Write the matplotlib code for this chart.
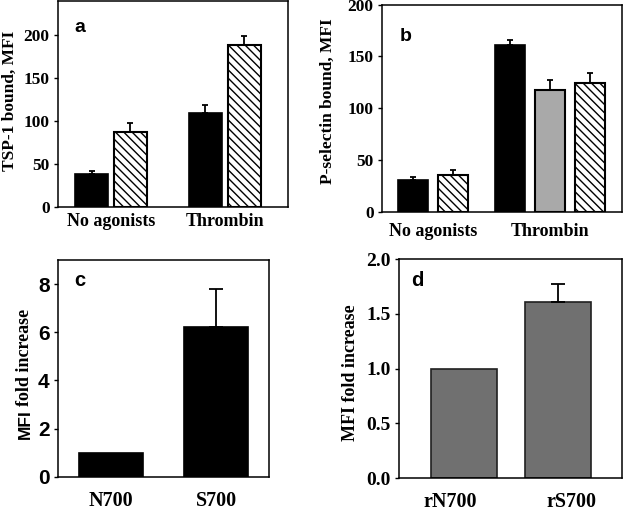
import matplotlib
matplotlib.use('Agg')
import numpy as np
import matplotlib.pyplot as plt

SERIF = 'Liberation Serif'
SANS = 'Liberation Sans'

# ---- data ----
# panel a: TSP-1 bound (MFI)
groups_ab = ['No agonists', 'Thrombin']
tsp_solid = [38, 110]
tsp_solid_err = [4, 9]
tsp_hatch = [88, 189]
tsp_hatch_err = [10, 10]

# panel b: P-selectin bound (MFI)
psel_na = [31, 36]            # black, hatched
psel_na_err = [3, 4]
psel_thr = [161, 118, 124]    # black, gray, hatched
psel_thr_err = [5, 9, 10]

# panel c: MFI fold increase
cats_c = ['N700', 'S700']
fold_c = [1.0, 6.2]
fold_c_err = [0, 1.6]

# panel d: MFI fold increase
cats_d = ['rN700', 'rS700']
fold_d = [1.0, 1.61]
fold_d_err = [0, 0.16]

HATCH = '\\\\\\\\'
plt.rcParams['hatch.linewidth'] = 1.0

fig = plt.figure(figsize=(6.25, 5.12), dpi=100)


def style_axes(ax, tickfont, ticksize):
    for s in ax.spines.values():
        s.set_linewidth(1.1)
    ax.tick_params(axis='y', direction='out', length=3, width=1, pad=3)
    ax.tick_params(axis='x', length=0)
    for lab in ax.get_yticklabels():
        lab.set_fontfamily(tickfont)
        lab.set_fontweight('bold')
        lab.set_fontsize(ticksize)


def up_err(ax, x, y, e, cap):
    ax.errorbar(x, y, yerr=[np.zeros(len(e)), e], fmt='none', ecolor='black',
                elinewidth=1.3, capsize=cap, capthick=1.3)


# ---- panel a ----
ax = fig.add_axes([0.0928, 0.5957, 0.368, 0.402])
x = np.arange(len(groups_ab))
w = 0.29
off = 0.171
ax.bar(x - off, tsp_solid, w, color='black', edgecolor='black', linewidth=1.2)
ax.bar(x + off, tsp_hatch, w, color='white', edgecolor='black', linewidth=1.5, hatch=HATCH)
up_err(ax, x - off, tsp_solid, tsp_solid_err, 2.5)
up_err(ax, x + off, tsp_hatch, tsp_hatch_err, 2.5)
ax.set_xlim(-0.465, 1.553)
ax.set_ylim(0, 240)
ax.set_yticks([0, 50, 100, 150, 200])
ax.set_xticks(x)
ax.set_xticklabels(groups_ab, fontfamily=SERIF, fontweight='bold', fontsize=13)
ax.tick_params(axis='x', pad=4)
style_axes(ax, SERIF, 12.5)
ax.set_ylabel('TSP-1 bound, MFI', fontfamily=SERIF, fontweight='bold', fontsize=12.5)
ax.yaxis.set_label_coords(-0.175, 0.515)
ax.text(0.096, 0.874, 'a', transform=ax.transAxes, fontfamily=SANS, fontweight='bold',
        fontsize=14, ha='center', va='center')

# ---- panel b ----
ax = fig.add_axes([0.611, 0.586, 0.384, 0.405])
w = 0.256
sp = 0.342
xna = np.array([-sp / 2, sp / 2])
xth = 1 + np.array([-sp, 0, sp])
ax.bar(xna[0], psel_na[0], w, color='black', edgecolor='black', linewidth=1.2)
ax.bar(xna[1], psel_na[1], w, color='white', edgecolor='black', linewidth=1.5, hatch=HATCH)
ax.bar(xth[0], psel_thr[0], w, color='black', edgecolor='black', linewidth=1.2)
ax.bar(xth[1], psel_thr[1], w, color='#a9a9a9', edgecolor='black', linewidth=1.5)
ax.bar(xth[2], psel_thr[2], w, color='white', edgecolor='black', linewidth=1.5, hatch=HATCH)
up_err(ax, xna, psel_na, psel_na_err, 2.5)
up_err(ax, xth, psel_thr, psel_thr_err, 2.5)
ax.set_xlim(-0.436, 1.615)
ax.set_ylim(0, 200)
ax.set_yticks([0, 50, 100, 150, 200])
ax.set_xticks([0, 1])
ax.set_xticklabels(groups_ab, fontfamily=SERIF, fontweight='bold', fontsize=13)
ax.tick_params(axis='x', pad=8)
style_axes(ax, SERIF, 12.5)
ax.set_ylabel('P-selectin bound, MFI', fontfamily=SERIF, fontweight='bold', fontsize=12.5)
ax.yaxis.set_label_coords(-0.19, 0.535)
ax.text(0.1, 0.847, 'b', transform=ax.transAxes, fontfamily=SANS, fontweight='bold',
        fontsize=14, ha='center', va='center')

# ---- panel c ----
ax = fig.add_axes([0.0928, 0.0684, 0.3376, 0.424])
x = np.arange(len(cats_c))
ax.bar(x, fold_c, 0.607, color='black', edgecolor='black', linewidth=1.2)
up_err(ax, x[1:], fold_c[1:], fold_c_err[1:], 5)
ax.set_xlim(-0.502, 1.498)
ax.set_ylim(0, 9)
ax.set_yticks([0, 2, 4, 6, 8])
ax.set_xticks(x)
ax.set_xticklabels(cats_c, fontfamily=SERIF, fontweight='bold', fontsize=14.5)
ax.tick_params(axis='x', pad=10)
style_axes(ax, SANS, 15)
# mixed-font y label: "MFI" in sans, "fold increase" in serif
fig.text(0.040, 0.143, 'MFI', rotation=90, fontfamily=SANS, fontweight='bold',
         fontsize=12.5, ha='center', va='bottom')
fig.text(0.040, 0.207, 'fold increase', rotation=90, fontfamily=SERIF, fontweight='bold',
         fontsize=13, ha='center', va='bottom')
ax.text(0.104, 0.903, 'c', transform=ax.transAxes, fontfamily=SANS, fontweight='bold',
        fontsize=14.5, ha='center', va='center')

# ---- panel d ----
ax = fig.add_axes([0.638, 0.0664, 0.357, 0.4277])
x = np.arange(len(cats_d))
ax.bar(x, fold_d, 0.70, color='#707070', edgecolor='#202020', linewidth=1.2)
up_err(ax, x[1:], fold_d[1:], fold_d_err[1:], 5)
ax.set_xlim(-0.691, 1.681)
ax.set_ylim(0, 2.0)
ax.set_yticks([0, 0.5, 1.0, 1.5, 2.0])
ax.set_yticklabels(['%.1f' % v for v in [0, 0.5, 1.0, 1.5, 2.0]])
lab_off = 0.14
ax.set_xticks([x[0] - lab_off, x[1] + lab_off])
ax.set_xticklabels(cats_d, fontfamily=SERIF, fontweight='bold', fontsize=14.5)
ax.tick_params(axis='x', pad=10)
style_axes(ax, SERIF, 14)
ax.set_ylabel('MFI fold increase', fontfamily=SERIF, fontweight='bold', fontsize=13)
ax.yaxis.set_label_coords(-0.18, 0.48)
ax.text(0.081, 0.9, 'd', transform=ax.transAxes, fontfamily=SANS, fontweight='bold',
        fontsize=14.5, ha='center', va='center')

fig.savefig('out.png', dpi=100)
